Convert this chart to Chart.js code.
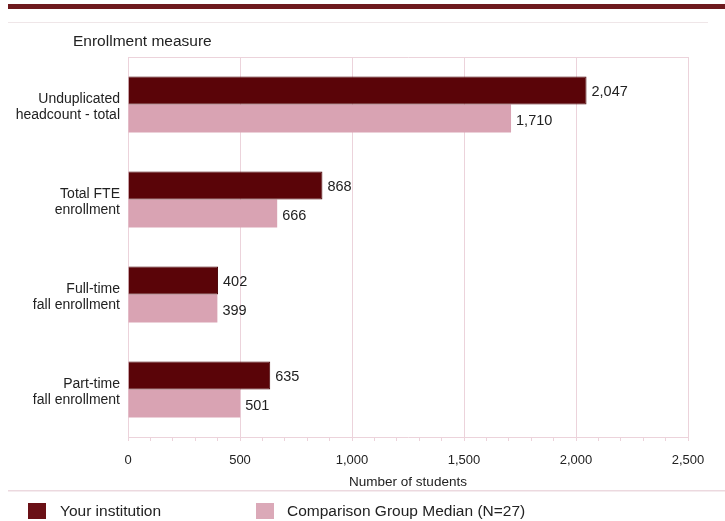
<!DOCTYPE html>
<html lang="en">
<head>
    <meta charset="UTF-8">
    <title>Enrollment measure</title>
    <script src="https://cdn.jsdelivr.net/npm/chart.js"></script>
    <style>
        body {
            margin: 0;
            padding: 0;
            background: #fff;
            font-family: "Liberation Sans", Arial, sans-serif;
        }
        #wrap {
            position: relative;
            width: 725px;
            height: 521px;
            overflow: hidden;
        }
        canvas { position: absolute; left: 0; top: 0; }
        .legend {
            position: absolute;
            top: 502px;
            font-size: 15.5px;
            color: #222;
            line-height: 18px;
        }
        .legend span.box {
            position: absolute;
            top: 1px;
            width: 18px;
            height: 16px;
        }
    </style>
</head>
<body>
<div id="wrap">
    <canvas id="chart" width="725" height="521"></canvas>
    <div class="legend" style="left:28px;"><span class="box" style="left:0;background:#6a1016;"></span><span style="margin-left:32px;">Your institution</span></div>
    <div class="legend" style="left:256px;"><span class="box" style="left:0;background:#dba9b8;"></span><span style="margin-left:31px;">Comparison Group Median (N=27)</span></div>
</div>

<script>
    // categories and values
    const categories = [
        ['Unduplicated', 'headcount - total'],
        ['Total FTE', 'enrollment'],
        ['Full-time', 'fall enrollment'],
        ['Part-time', 'fall enrollment']
    ];
    const yourInstitution = [2047, 868, 402, 635];
    const comparisonMedian = [1710, 666, 399, 501];
    const xMax = 2500;

    const fmt = v => v.toLocaleString('en-US');

    // value labels right of each bar + extra page decorations
    const extras = {
        id: 'extras',
        beforeDraw(chart) {
            const ctx = chart.ctx;
            ctx.save();
            // dark red rule at top
            ctx.fillStyle = '#6e1a1e';
            ctx.fillRect(8, 4, 717, 5);
            // faint rule below
            ctx.fillStyle = '#efe6e8';
            ctx.fillRect(8, 22, 700, 1);
            // separator above legend
            ctx.fillStyle = '#ecd9df';
            ctx.fillRect(8, 490, 717, 1.5);
            // title
            ctx.fillStyle = '#222';
            ctx.font = '15.5px "Liberation Sans", Arial, sans-serif';
            ctx.textBaseline = 'middle';
            ctx.fillText('Enrollment measure', 73, 42);
            // frame top
            const a = chart.chartArea;
            ctx.strokeStyle = '#ecd3db';
            ctx.lineWidth = 1;
            ctx.beginPath();
            ctx.moveTo(a.left, a.top + 0.5);
            ctx.lineTo(a.right + 0.5, a.top + 0.5);
            ctx.stroke();
            ctx.restore();
        },
        afterDatasetsDraw(chart) {
            const ctx = chart.ctx;
            ctx.save();
            ctx.fillStyle = '#222';
            ctx.font = '14.5px "Liberation Sans", Arial, sans-serif';
            ctx.textBaseline = 'middle';
            chart.data.datasets.forEach((ds, i) => {
                chart.getDatasetMeta(i).data.forEach((bar, j) => {
                    ctx.fillText(fmt(ds.data[j]), bar.x + 5, bar.y + 2);
                });
            });
            ctx.restore();
        }
    };

    const ctx = document.getElementById('chart').getContext('2d');
    new Chart(ctx, {
        type: 'bar',
        data: {
            labels: categories,
            datasets: [{
                label: 'Your institution',
                data: yourInstitution,
                backgroundColor: '#5a0408',
                borderColor: '#480205',
                borderWidth: 1,
                barPercentage: 1,
                categoryPercentage: 0.59
            }, {
                label: 'Comparison Group Median (N=27)',
                data: comparisonMedian,
                backgroundColor: '#d9a3b3',
                borderWidth: 0,
                barPercentage: 1,
                categoryPercentage: 0.59
            }]
        },
        options: {
            indexAxis: 'y',
            responsive: false,
            animation: false,
            layout: { padding: { top: 57, right: 37, bottom: 31, left: 0 } },
            plugins: {
                legend: { display: false },
                tooltip: { enabled: false }
            },
            scales: {
                x: {
                    min: 0,
                    max: xMax,
                    ticks: {
                        stepSize: 100,
                        autoSkip: false,
                        maxRotation: 0,
                        padding: 12,
                        color: '#222',
                        font: { size: 13, family: '"Liberation Sans", Arial, sans-serif' },
                        callback: v => (v % 500 === 0 ? fmt(v) : '')
                    },
                    grid: {
                        color: c => (c.tick && c.tick.value % 500 === 0 ? '#ecd3db' : 'rgba(0,0,0,0)'),
                        tickColor: '#ecd3db',
                        tickLength: 4,
                        drawTicks: true
                    },
                    border: { color: '#ecd3db' },
                    title: {
                        display: true,
                        text: 'Number of students',
                        color: '#222',
                        font: { size: 13.5, family: '"Liberation Sans", Arial, sans-serif' },
                        padding: { top: 4, bottom: 0 }
                    },
                    afterFit: s => { s.height = 53; }
                },
                y: {
                    ticks: {
                        color: '#222',
                        padding: 0,
                        labelOffset: 3,
                        font: { size: 14, family: '"Liberation Sans", Arial, sans-serif', lineHeight: 1.15 }
                    },
                    grid: { display: false },
                    border: { color: '#ecd3db' },
                    afterFit: s => { s.width = 128; }
                }
            }
        },
        plugins: [extras]
    });
</script>
</body>
</html>
